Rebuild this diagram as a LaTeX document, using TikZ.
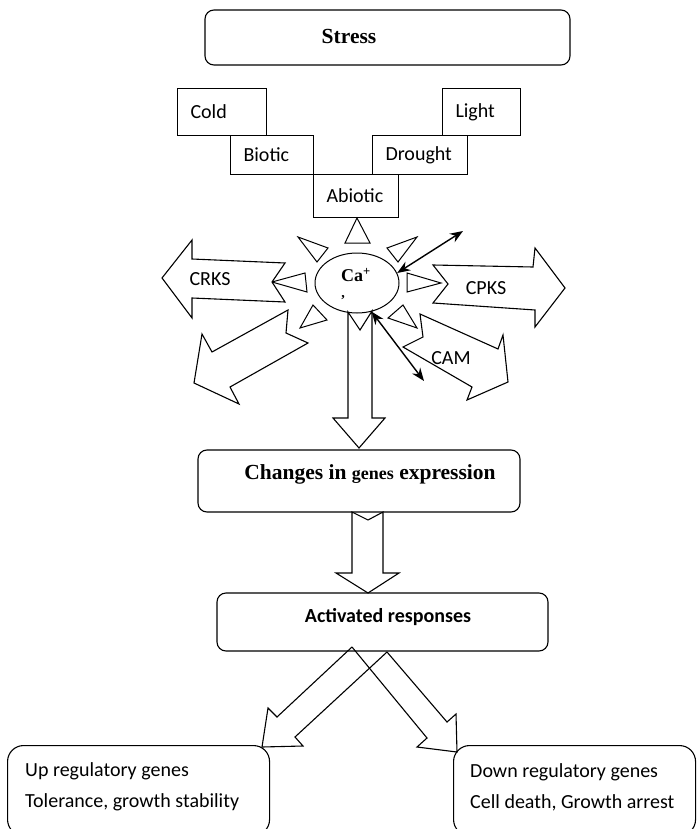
\documentclass[tikz,border=0pt]{standalone}
\usepackage{fontspec}
\setmainfont{Carlito}
\newfontfamily\timesfont{Liberation Serif}
\usetikzlibrary{arrows.meta, shapes.geometric}

\begin{document}
\begin{tikzpicture}[x=1pt, y=-1pt,
      panel/.style={draw, line width=1.1pt, rounded corners=9pt, inner sep=0pt},
      cause/.style={draw, line width=1pt, inner xsep=13pt, inner ysep=0pt,
                    align=left, anchor=north west, font=\fontsize{20}{24}\selectfont},
      outcome/.style={draw, line width=1.1pt, rounded corners=16pt, anchor=north west,
                      minimum height=90pt},
      outtxt/.style={anchor=west, align=left, inner sep=0pt,
                     font=\fontsize{20}{31}\selectfont},
      ttl/.style={font=\timesfont\bfseries\fontsize{21.5}{24}\selectfont},
      tag/.style={font=\fontsize{20}{24}\selectfont},
      ray/.style={draw, line width=1pt, line join=miter},
      bigarrow/.style={draw, line width=1.1pt, line join=miter, fill=white},
      dbl/.style={{Stealth[length=13pt,width=10pt]}-{Stealth[length=13pt,width=10pt]}, line width=1.4pt}
    ]
    \useasboundingbox (0,0) rectangle (698,829);

    % stress and its kinds
    \node[panel, minimum width=365pt, minimum height=55pt] (stress) at (387.5,37.5) {};
    \node[ttl] (stresstxt) at (349,36) {Stress};

    \node[cause, text width=63pt, minimum height=47pt] (cold) at (177,88) {Cold};
    \node[cause, text width=57pt, minimum height=39pt] (biotic) at (230,135) {Biotic};
    \node[cause, text width=59pt, minimum height=43pt] (abiotic) at (313,174) {Abiotic};
    \node[cause, text width=69pt, minimum height=39pt] (drought) at (372,135) {Drought};
    \node[cause, text width=52pt, minimum height=47pt] (light) at (442,88) {Light};

    % calcium signal
    \node[draw, ellipse, line width=1pt, minimum width=84pt, minimum height=60pt,
          inner sep=0pt] (ca) at (357,283) {};
    \node[font=\timesfont\bfseries\fontsize{18}{20}\selectfont] (catxt) at (356,275) {Ca\textsuperscript{+}};
    \node[font=\timesfont\bfseries\fontsize{14}{16}\selectfont] (comma) at (343,298) {,};

    \foreach \tip/\ba/\bb in {{(357,218)}/{(345,243)}/{(370,243)},
        {(417,237)}/{(387,248)}/{(398,262)},
        {(441,283)}/{(407,273)}/{(407,292)},
        {(417,328)}/{(388,318)}/{(403,305)},
        {(300,328)}/{(313,305)}/{(327,320)},
        {(272,282)}/{(305,273)}/{(307,292)},
        {(298,237)}/{(328,248)}/{(317,262)}}
      \draw[ray] \tip -- \ba -- \bb -- cycle;

    % kinases and calmodulin
    \draw[bigarrow] (162,278) -- (192,240) -- (192,259) -- (285,263) -- (272,282)
      -- (285,302) -- (192,298) -- (192,318) -- cycle;
    \node[tag] (crks) at (210,279) {CRKS};

    \draw[bigarrow] (433,265) -- (533,267) -- (535,248) -- (565,288) -- (535,327)
      -- (535,310) -- (433,303) -- (448,284) -- cycle;
    \node[tag] (cpks) at (486,288) {CPKS};

    \draw[bigarrow] (288,310) -- (286,333) -- (308,343) -- (230,387) -- (239,404)
      -- (194,383) -- (202,334) -- (212,352) -- cycle;

    \draw[bigarrow] (420,314) -- (498,349) -- (503,335) -- (508,382) -- (467,400)
      -- (472,387) -- (403,347) -- (423,337) -- cycle;
    \node[tag] (cam) at (451,358) {CAM};

    \coordinate (upend) at (463,231);
    \coordinate (downend) at (424,381);
    \draw[dbl] (ca.14) -- (upend);
    \draw[dbl] (ca.-63) -- (downend);

    % gene expression
    \draw[bigarrow] (348,312) -- (360,330) -- (372,311) -- (372,418) -- (385,418)
      -- (359,448) -- (333,418) -- (348,418) -- cycle;

    \node[panel, minimum width=322pt, minimum height=62pt] (changes) at (359,481) {};
    \node[ttl] (changestxt) at (370,474)
      {Changes in {\fontsize{18}{20}\selectfont genes} expression};

    \draw[bigarrow] (352,512) -- (368,520) -- (383,512) -- (383,573) -- (399,573)
      -- (368,593) -- (336,573) -- (352,573) -- cycle;

    \node[panel, minimum width=331pt, minimum height=58pt] (act) at (382.5,622) {};
    \node[font=\bfseries\fontsize{20}{24}\selectfont] (acttxt) at (388,617) {Activated responses};

    % outcomes
    \draw[line width=1.1pt, line join=miter] (352,647) -- (277,717) -- (268,708) -- (262,747)
      -- (303,746) -- (295,737) -- (387,652);
    \draw[line width=1.1pt, line join=miter] (352,647) -- (427,738) -- (417,747) -- (457,752)
      -- (456,714) -- (447,722) -- (387,652);

    \node[outcome, minimum width=262pt] (up) at (7,745) {};
    \node[outtxt] (uptxt) at (25,787) {Up regulatory genes\\Tolerance, growth stability};
    \node[outcome, minimum width=242pt] (down) at (453,745) {};
    \node[outtxt] (downtxt) at (470,787) {Down regulatory genes\\Cell death, Growth arrest};
  \end{tikzpicture}
\end{document}
